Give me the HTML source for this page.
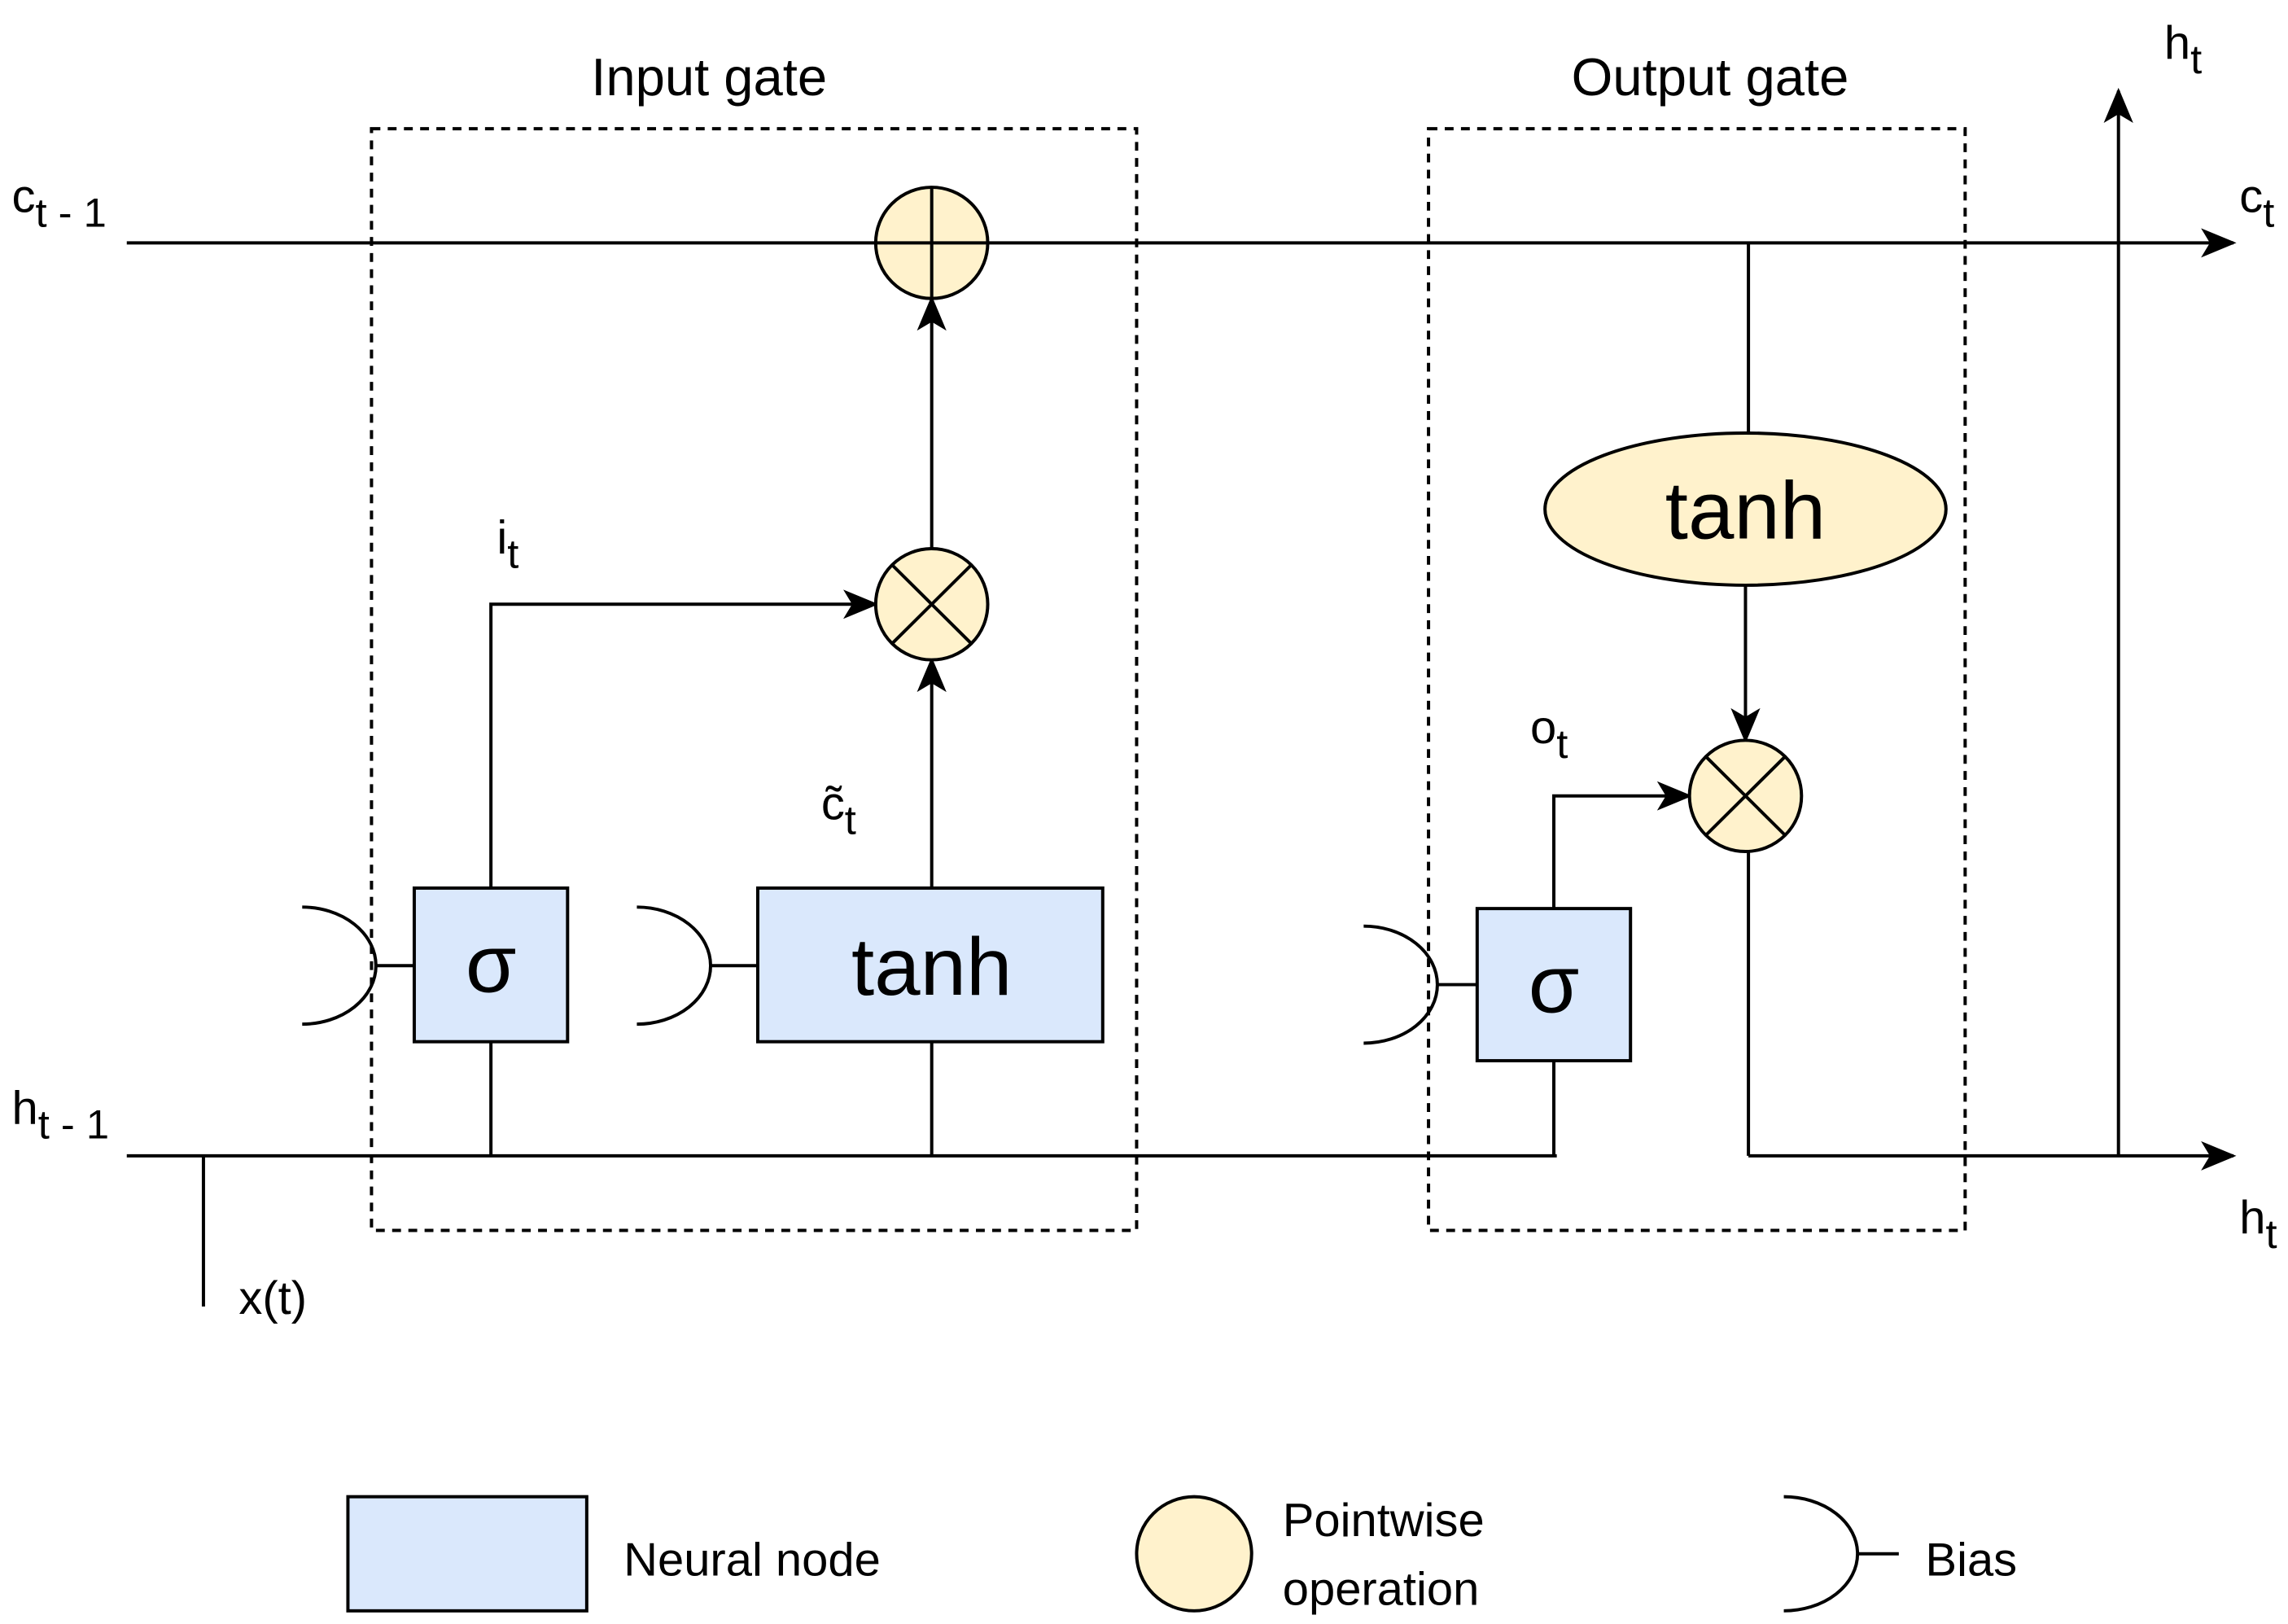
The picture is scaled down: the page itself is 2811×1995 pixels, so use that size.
<!DOCTYPE html>
<html><head><meta charset="utf-8"><style>
html,body{margin:0;padding:0;background:#fff;}
svg{display:block;}
text{font-family:"Liberation Sans",sans-serif;fill:#000;}
</style></head><body>
<svg width="2811" height="1995" viewBox="0 0 1552 1110" preserveAspectRatio="none" xmlns="http://www.w3.org/2000/svg">
<defs>
<marker id="b" markerWidth="24" markerHeight="20" refX="22" refY="10" orient="auto" markerUnits="userSpaceOnUse" viewBox="0 0 24 20">
<path d="M0,0 L24,10 L0,20 L6,10 Z" fill="#000"/>
</marker>
</defs>
<g stroke="#000" stroke-width="2.2" fill="none">
<rect x="252" y="88" width="519" height="753" stroke-dasharray="6,5"/>
<rect x="969" y="88" width="364" height="753" stroke-dasharray="6,5"/>
<line x1="86" y1="166" x2="1515" y2="166" marker-end="url(#b)"/>
<line x1="86" y1="790" x2="1056" y2="790"/>
<line x1="1186" y1="790" x2="1515" y2="790" marker-end="url(#b)"/>
<line x1="1437" y1="790" x2="1437" y2="62" marker-end="url(#b)"/>
<line x1="138" y1="790" x2="138" y2="893"/>
<line x1="632" y1="607" x2="632" y2="451" marker-end="url(#b)"/>
<line x1="632" y1="375" x2="632" y2="204" marker-end="url(#b)"/>
<polyline points="333,607 333,413 594,413" marker-end="url(#b)"/>
<line x1="333" y1="712" x2="333" y2="790"/>
<line x1="632" y1="712" x2="632" y2="790"/>
<polyline points="1054,621 1054,544 1146,544" marker-end="url(#b)"/>
<polyline points="1054,725 1054,790"/>
<line x1="1186" y1="166" x2="1186" y2="296"/>
<line x1="1184" y1="400" x2="1184" y2="506" marker-end="url(#b)"/>
<line x1="1186" y1="582" x2="1186" y2="790"/>
<path d="M205,620 A50,40 0 0 1 205,700"/><line x1="255" y1="660" x2="281" y2="660"/>
<path d="M432,620 A50,40 0 0 1 432,700"/><line x1="482" y1="660" x2="514" y2="660"/>
<path d="M925,633 A50,40 0 0 1 925,713"/><line x1="975" y1="673" x2="1002" y2="673"/>
<path d="M1210,1023 A50,39 0 0 1 1210,1101"/><line x1="1260" y1="1062" x2="1288" y2="1062"/>
</g>
<g stroke="#000" stroke-width="2.2">
<rect x="281" y="607" width="104" height="105" fill="#dae8fc"/>
<rect x="514" y="607" width="234" height="105" fill="#dae8fc"/>
<rect x="1002" y="621" width="104" height="104" fill="#dae8fc"/>
<rect x="236" y="1023" width="162" height="78" fill="#dae8fc"/>
<circle cx="632" cy="166" r="38" fill="#fff2cc"/>
<line x1="594" y1="166" x2="670" y2="166"/><line x1="632" y1="128" x2="632" y2="204"/>
<circle cx="632" cy="413" r="38" fill="#fff2cc"/>
<line x1="605" y1="386" x2="659" y2="440"/><line x1="659" y1="386" x2="605" y2="440"/>
<circle cx="1184" cy="544" r="38" fill="#fff2cc"/>
<line x1="1157" y1="517" x2="1211" y2="571"/><line x1="1211" y1="517" x2="1157" y2="571"/>
<ellipse cx="1184" cy="348" rx="136" ry="52" fill="#fff2cc"/>
<circle cx="810" cy="1062" r="39" fill="#fff2cc"/>
</g>
<g font-size="36">
<text x="481" y="65" text-anchor="middle">Input gate</text>
<text x="1160" y="65" text-anchor="middle">Output gate</text>
</g>
<g font-size="56" text-anchor="middle">
<text x="632" y="680">tanh</text>
<text x="1184" y="368">tanh</text>
<text x="333" y="678">σ</text>
<text x="1054" y="692">σ</text>
</g>
<g font-size="32">
<text x="8" y="145">c<tspan font-size="28" dy="10">t - 1</tspan></text>
<text x="8" y="768">h<tspan font-size="28" dy="10">t - 1</tspan></text>
<text x="1519" y="145">c<tspan font-size="28" dy="10">t</tspan></text>
<text x="1468" y="40">h<tspan font-size="28" dy="10">t</tspan></text>
<text x="1519" y="843">h<tspan font-size="28" dy="10">t</tspan></text>
<text x="337" y="378">i<tspan font-size="28" dy="10">t</tspan></text>
<text x="557" y="560">c̃<tspan font-size="28" dy="10">t</tspan></text>
<text x="1038" y="508">o<tspan font-size="28" dy="10">t</tspan></text>
<text x="162" y="898">x(t)</text>
<text x="423" y="1077">Neural node</text>
<text x="870" y="1050">Pointwise</text>
<text x="870" y="1097">operation</text>
<text x="1306" y="1077">Bias</text>
</g>
</svg>
</body></html>
